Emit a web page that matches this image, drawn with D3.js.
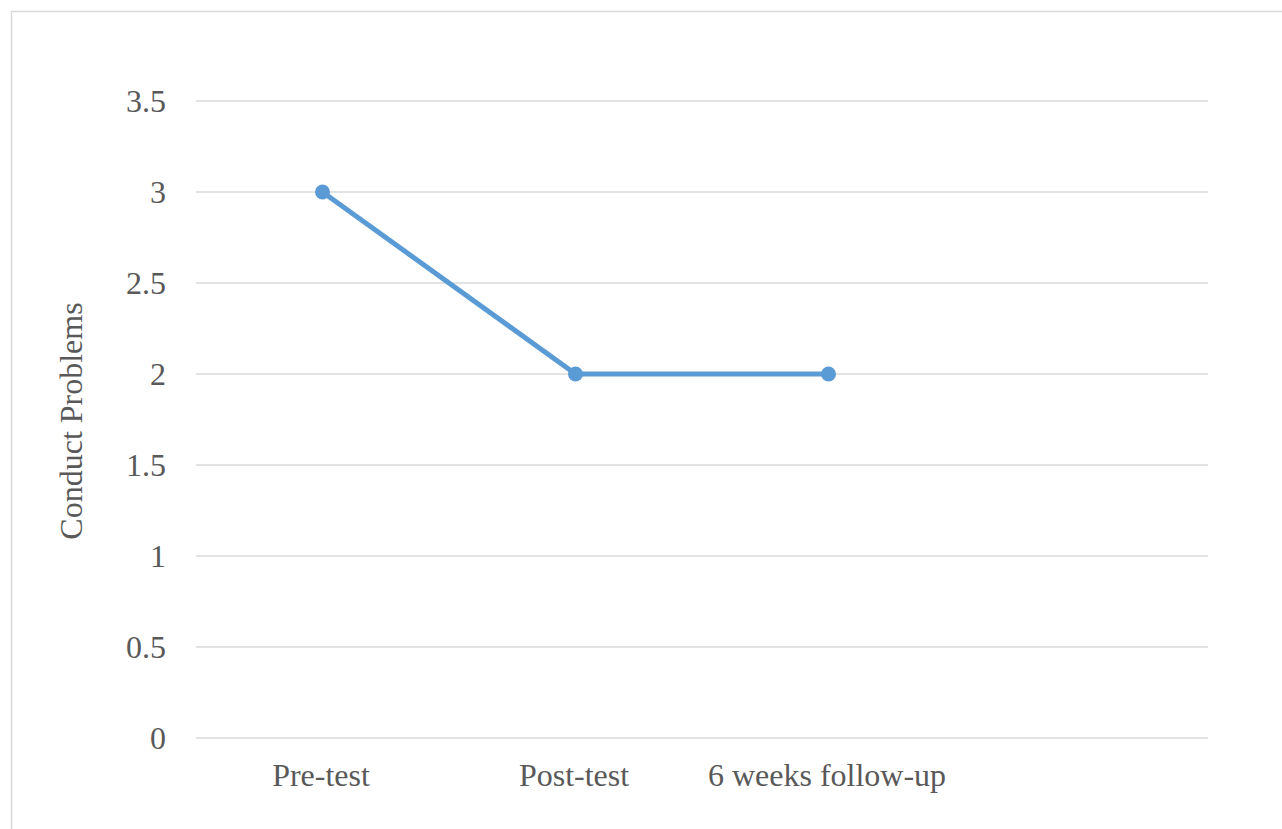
<!DOCTYPE html>
<html>
<head>
<meta charset="utf-8">
<script src="https://cdn.jsdelivr.net/npm/d3@7/dist/d3.min.js"></script>
<style>
  html, body { margin: 0; padding: 0; background: #fff; }
</style>
</head>
<body>
<svg id="chart" width="1282" height="829"></svg>
<script>
// Time points (the last slot is an empty category, as in the source sheet)
const categories = ["Pre-test", "Post-test", "6 weeks follow-up", " "];
// Mean conduct problems score at each measured time point
const values = [3, 2, 2];
const yTicks = [0, 0.5, 1, 1.5, 2, 2.5, 3, 3.5];
const yTitle = "Conduct Problems";

const FONT = "'Liberation Serif', 'Times New Roman', serif";
const TEXT_COLOR = "#595959";
const FONT_SIZE = 32;

const svg = d3.select("#chart");
const W = 1282, H = 829;
const plot = { left: 196, right: 1208, top: 101, bottom: 738 };

// outer chart frame
svg.append("rect")
  .attr("x", 11.5).attr("y", 11.5)
  .attr("width", W + 20).attr("height", H + 20)
  .attr("fill", "#fff")
  .attr("stroke", "#d9d9d9").attr("stroke-width", 1.5);

const x = d3.scaleBand()
  .domain(categories)
  .range([plot.left, plot.right]);

const y = d3.scaleLinear()
  .domain([0, 3.5])
  .range([plot.bottom, plot.top]);

// horizontal gridlines
svg.append("g")
  .selectAll("line")
  .data(yTicks)
  .join("line")
  .attr("x1", plot.left).attr("x2", plot.right)
  .attr("y1", d => y(d)).attr("y2", d => y(d))
  .attr("stroke", "#d9d9d9").attr("stroke-width", 1.5);

// y tick labels
svg.append("g")
  .selectAll("text")
  .data(yTicks)
  .join("text")
  .attr("x", 166)
  .attr("y", d => y(d) + 10.5)
  .attr("text-anchor", "end")
  .attr("font-family", FONT)
  .attr("fill", TEXT_COLOR)
  .attr("font-size", FONT_SIZE)
  .text(d => d3.format("~g")(d));

// x category labels
svg.append("g")
  .selectAll("text")
  .data(categories)
  .join("text")
  .attr("x", d => x(d) + x.bandwidth() / 2 - 1.5)
  .attr("y", 786)
  .attr("text-anchor", "middle")
  .attr("font-family", FONT)
  .attr("fill", TEXT_COLOR)
  .attr("font-size", FONT_SIZE)
  .text(d => d.trim());

// y axis title
svg.append("text")
  .attr("transform", "translate(82,421) rotate(-90)")
  .attr("text-anchor", "middle")
  .attr("font-family", FONT)
  .attr("fill", TEXT_COLOR)
  .attr("font-size", FONT_SIZE)
  .text(yTitle);

const pts = values.map((v, i) => ({ cat: categories[i], v }));

const line = d3.line()
  .x(d => x(d.cat) + x.bandwidth() / 2)
  .y(d => y(d.v));

svg.append("path")
  .datum(pts)
  .attr("d", line)
  .attr("fill", "none")
  .attr("stroke", "#5b9bd5")
  .attr("stroke-width", 5)
  .attr("stroke-linejoin", "round")
  .attr("stroke-linecap", "round");

svg.append("g")
  .selectAll("circle")
  .data(pts)
  .join("circle")
  .attr("cx", d => x(d.cat) + x.bandwidth() / 2)
  .attr("cy", d => y(d.v))
  .attr("r", 7.5)
  .attr("fill", "#5b9bd5");
</script>
</body>
</html>
